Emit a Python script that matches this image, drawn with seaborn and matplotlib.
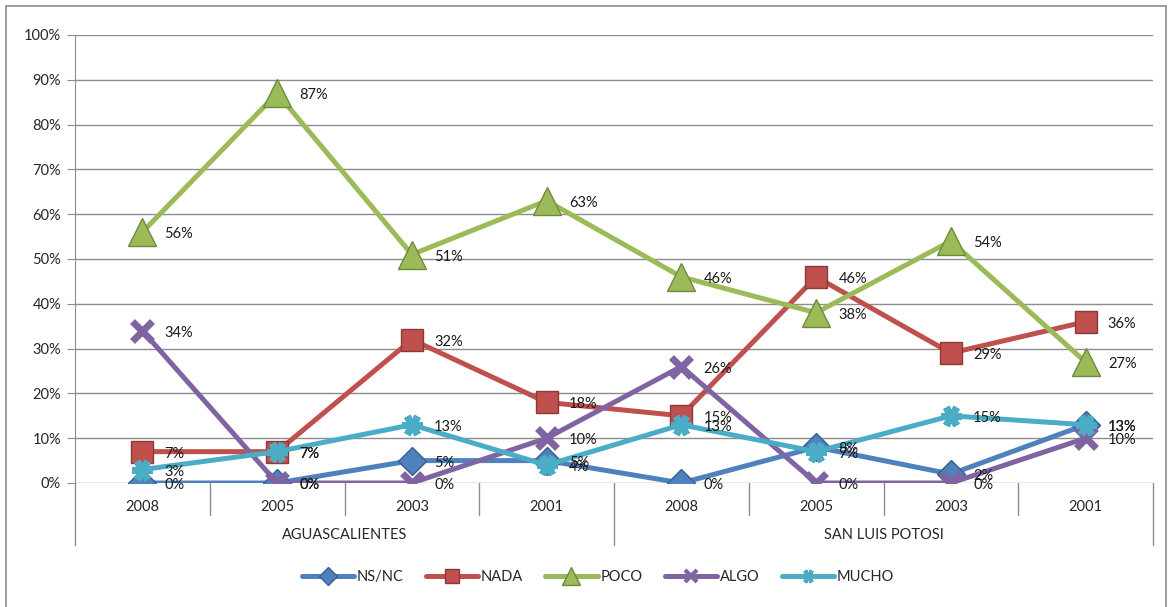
import numpy as np
import pandas as pd
import matplotlib
matplotlib.use("Agg")
import matplotlib.pyplot as plt
import matplotlib.transforms as mtransforms
from matplotlib.lines import Line2D
from matplotlib.patches import Rectangle
import seaborn as sns

sns.set_style("white")
plt.rcParams['font.family'] = ['Lato', 'DejaVu Sans']

# ---- data ----
years = ["2008", "2005", "2003", "2001", "2008", "2005", "2003", "2001"]
groups = ["AGUASCALIENTES", "SAN LUIS POTOSI"]
series_names = ["NS/NC", "NADA", "POCO", "ALGO", "MUCHO"]
ns_nc = [0, 0, 5, 5, 0, 8, 2, 13]
nada = [7, 7, 32, 18, 15, 46, 29, 36]
poco = [56, 87, 51, 63, 46, 38, 54, 27]
algo = [34, 0, 0, 10, 26, 0, 0, 10]
mucho = [3, 7, 13, 4, 13, 7, 15, 13]
values = [ns_nc, nada, poco, algo, mucho]

colors = ["#4F81BD", "#C0504D", "#9BBB59", "#8064A2", "#4BACC6"]
edges = ["#35608F", "#8C3836", "#6F8A3A", "#8064A2", "#4BACC6"]
markers = ["D", "s", "^", "x", (6, 2, 90)]
msizes = [14, 16, 20, 14, 15]
FS = 10.5

W, H = 1172, 607
fig = plt.figure(figsize=(W / 100, H / 100), dpi=100)
L, R, T, B = 75, 1153, 35, 483
ax = fig.add_axes([L / W, 1 - B / H, (R - L) / W, (B - T) / H])

pos = np.arange(len(years))
for name, vals, c, ec, m, ms in zip(series_names, values, colors, edges, markers, msizes):
    df = pd.DataFrame({"x": pos, "y": vals})
    filled = m in ("D", "s", "^")
    kw = dict(markerfacecolor=c, markeredgecolor=ec, markeredgewidth=1.0) if filled else \
        dict(markeredgecolor=c, markeredgewidth=5)
    sns.lineplot(data=df, x="x", y="y", ax=ax, color=c, linewidth=3.6,
                 marker=m, markersize=ms, legend=False, zorder=3, **kw)
    for xi, yi in zip(pos, vals):
        ax.annotate(f"{yi}%", (xi, yi), xytext=(16, -1.5), textcoords="offset points",
                    ha="left", va="center", fontsize=FS, color="#1a1a1a", zorder=5)

ax.set_xlim(-0.5, len(years) - 0.5)
ax.set_ylim(0, 100)
ax.set_yticks(np.arange(0, 101, 10))
ax.set_yticklabels([f"{v}%" for v in range(0, 101, 10)])
ax.set_xticks(pos)
ax.set_xticklabels(years)
ax.set_xlabel("")
ax.set_ylabel("")
ax.grid(axis="y", color="#8C8C8C", linewidth=1.0)
ax.set_axisbelow(True)
for s in ["top", "right", "bottom"]:
    ax.spines[s].set_visible(False)
ax.spines["left"].set_color("#8C8C8C")
ax.tick_params(axis="y", length=6, color="#8C8C8C", labelsize=FS, pad=4, left=True)
ax.tick_params(axis="x", length=0, labelsize=FS, pad=12)

trans = mtransforms.blended_transform_factory(ax.transData, ax.transAxes)
short = -32 / (B - T)
long_ = -62 / (B - T)
for b in np.arange(-0.5, len(years), 1.0):
    ylow = long_ if b in (-0.5, 3.5, 7.5) else short
    ax.plot([b, b], [0, ylow], transform=trans, color="#8C8C8C", lw=1.0, clip_on=False)
ax.text(1.5, -52 / (B - T), groups[0], transform=trans, ha="center", va="center", fontsize=FS)
ax.text(5.5, -52 / (B - T), groups[1], transform=trans, ha="center", va="center", fontsize=FS)

handles = []
for name, c, ec, m, ms in zip(series_names, colors, edges, markers, msizes):
    filled = m in ("D", "s", "^")
    kw = dict(markerfacecolor=c, markeredgecolor=ec, markeredgewidth=1.0) if filled else \
        dict(markeredgecolor=c, markeredgewidth=3)
    handles.append(Line2D([], [], color=c, lw=3.6, marker=m, markersize=ms * 0.65, label=name, **kw))
fig.legend(handles=handles, loc="center", bbox_to_anchor=(598 / W, 1 - 577 / H), ncol=5,
           frameon=False, fontsize=FS, handlelength=3.6, columnspacing=1.5, handletextpad=0.2)

fig.patches.append(Rectangle((6 / W, -0.02), (1166 - 6) / W, (1 - 6 / H) + 0.02,
                             transform=fig.transFigure, fill=False, edgecolor="#8C8C8C", lw=1.2))

fig.savefig("out.png", dpi=100)
